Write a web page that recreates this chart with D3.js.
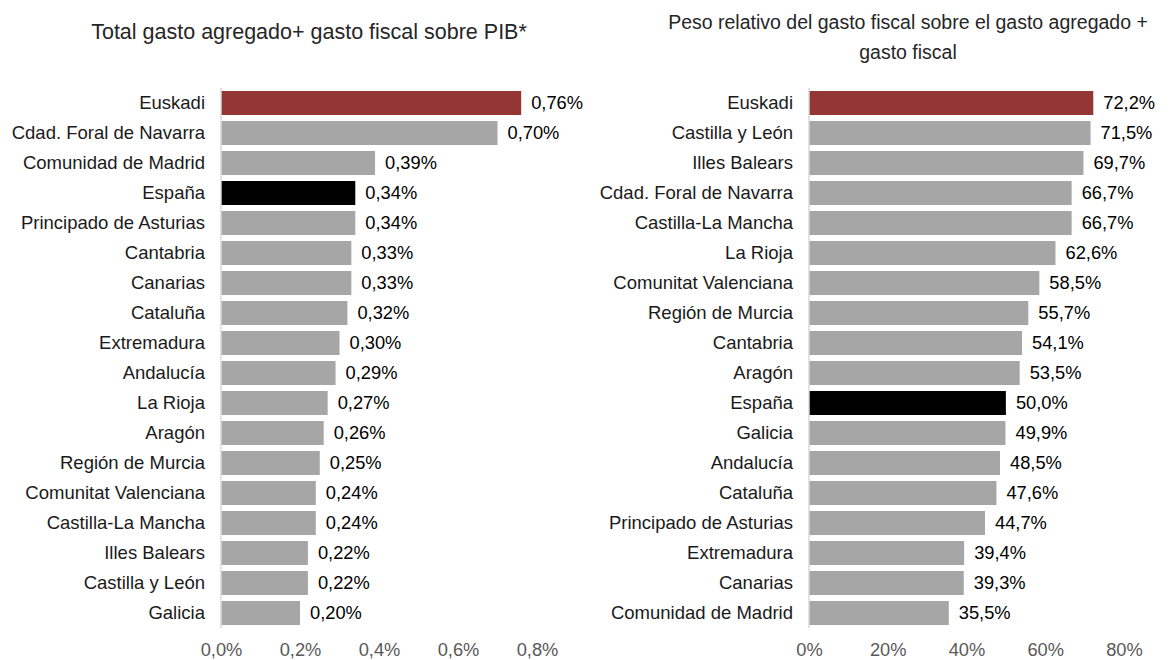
<!DOCTYPE html>
<html>
<head>
<meta charset="utf-8">
<script src="https://cdn.jsdelivr.net/npm/d3@7"></script>
<style>
  body { margin: 0; background: #fff; }
  svg { font-family: "Liberation Sans", Arial, sans-serif; }
  .cat { fill: #1a1a1a; font-size: 18.5px; }
  .val { fill: #000; font-size: 18.3px; }
  .tick text { fill: #595959; font-size: 18.3px; }
  .title { fill: #262626; }
</style>
</head>
<body>
<svg id="chart" width="1171" height="660"></svg>
<script>
// Left panel: total gasto agregado + gasto fiscal sobre PIB (%)
var leftCategories = ['Euskadi', 'Cdad. Foral de Navarra', 'Comunidad de Madrid', 'España',
  'Principado de Asturias', 'Cantabria', 'Canarias', 'Cataluña', 'Extremadura', 'Andalucía',
  'La Rioja', 'Aragón', 'Región de Murcia', 'Comunitat Valenciana', 'Castilla-La Mancha',
  'Illes Balears', 'Castilla y León', 'Galicia'];
var leftValues = [0.76, 0.70, 0.39, 0.34, 0.34, 0.33, 0.33, 0.32, 0.30, 0.29,
  0.27, 0.26, 0.25, 0.24, 0.24, 0.22, 0.22, 0.20];
var leftTicks = [0, 0.2, 0.4, 0.6, 0.8];

// Right panel: peso relativo del gasto fiscal (%)
var rightCategories = ['Euskadi', 'Castilla y León', 'Illes Balears', 'Cdad. Foral de Navarra',
  'Castilla-La Mancha', 'La Rioja', 'Comunitat Valenciana', 'Región de Murcia', 'Cantabria',
  'Aragón', 'España', 'Galicia', 'Andalucía', 'Cataluña', 'Principado de Asturias',
  'Extremadura', 'Canarias', 'Comunidad de Madrid'];
var rightValues = [72.2, 71.5, 69.7, 66.7, 66.7, 62.6, 58.5, 55.7, 54.1, 53.5,
  50.0, 49.9, 48.5, 47.6, 44.7, 39.4, 39.3, 35.5];
var rightTicks = [0, 20, 40, 60, 80];

var colorFor = function(name) {
  if (name === 'Euskadi') return '#943634';
  if (name === 'España') return '#000000';
  return '#a6a6a6';
};

var svg = d3.select('#chart');

function drawPanel(opts) {
  var x = d3.scaleLinear().domain(opts.domain).range([opts.x0, opts.x1]);
  var y = d3.scaleBand()
    .domain(opts.categories)
    .range([88, 628])
    .paddingInner(0.2)
    .paddingOuter(0.1);

  var g = svg.append('g');

  // Title
  var title = g.append('text')
    .attr('class', 'title')
    .attr('text-anchor', 'middle')
    .attr('font-size', opts.titleSize)
    .attr('x', opts.titleX)
    .attr('y', opts.titleY);
  opts.title.forEach(function(line, i) {
    title.append('tspan')
      .attr('x', opts.titleX)
      .attr('dy', i === 0 ? 0 : 30)
      .text(line);
  });

  // Bars
  g.selectAll('rect.bar')
    .data(opts.values)
    .enter().append('rect')
    .attr('class', 'bar')
    .attr('x', x(0))
    .attr('y', function(d, i) { return y(opts.categories[i]); })
    .attr('width', function(d) { return x(d) - x(0); })
    .attr('height', y.bandwidth())
    .attr('fill', function(d, i) { return colorFor(opts.categories[i]); });

  // Value labels
  g.selectAll('text.val')
    .data(opts.values)
    .enter().append('text')
    .attr('class', 'val')
    .attr('x', function(d) { return x(d) + 10; })
    .attr('y', function(d, i) { return y(opts.categories[i]) + y.bandwidth() / 2; })
    .attr('dy', '0.35em')
    .text(opts.valueFormat);

  // Category labels
  g.selectAll('text.cat')
    .data(opts.categories)
    .enter().append('text')
    .attr('class', 'cat')
    .attr('text-anchor', 'end')
    .attr('x', x(0) - 16)
    .attr('y', function(d) { return y(d) + y.bandwidth() / 2; })
    .attr('dy', '0.35em')
    .text(function(d) { return d; });

  // Vertical axis line
  g.append('line')
    .attr('x1', x(0)).attr('x2', x(0))
    .attr('y1', 88).attr('y2', 628)
    .attr('stroke', '#d9d9d9')
    .attr('stroke-width', 1.5);

  // Bottom tick labels
  var xAxis = d3.axisBottom(x)
    .tickValues(opts.ticks)
    .tickFormat(opts.tickFormat)
    .tickSize(0)
    .tickPadding(0);
  var ax = g.append('g')
    .attr('transform', 'translate(0,656)')
    .call(xAxis);
  ax.select('.domain').remove();
  ax.selectAll('.tick text')
    .attr('font-family', null)
    .attr('font-size', null)
    .attr('y', 0)
    .attr('dy', 0);
}

var comma = function(fmt) {
  return function(d) { return d3.format(fmt)(d).replace('.', ','); };
};

drawPanel({
  categories: leftCategories,
  values: leftValues,
  ticks: leftTicks,
  domain: [0, 0.8],
  x0: 221, x1: 537,
  title: ['Total gasto agregado+ gasto fiscal sobre PIB*'],
  titleSize: '21.5px',
  titleX: 309, titleY: 39,
  valueFormat: function(d) { return comma('.2f')(d) + '%'; },
  tickFormat: function(d) { return comma('.1f')(d) + '%'; }
});

drawPanel({
  categories: rightCategories,
  values: rightValues,
  ticks: rightTicks,
  domain: [0, 80],
  x0: 809, x1: 1124,
  title: ['Peso relativo del gasto fiscal sobre el gasto agregado +', 'gasto fiscal'],
  titleSize: '19.5px',
  titleX: 908, titleY: 29,
  valueFormat: function(d) { return comma('.1f')(d) + '%'; },
  tickFormat: function(d) { return d + '%'; }
});
</script>
</body>
</html>
